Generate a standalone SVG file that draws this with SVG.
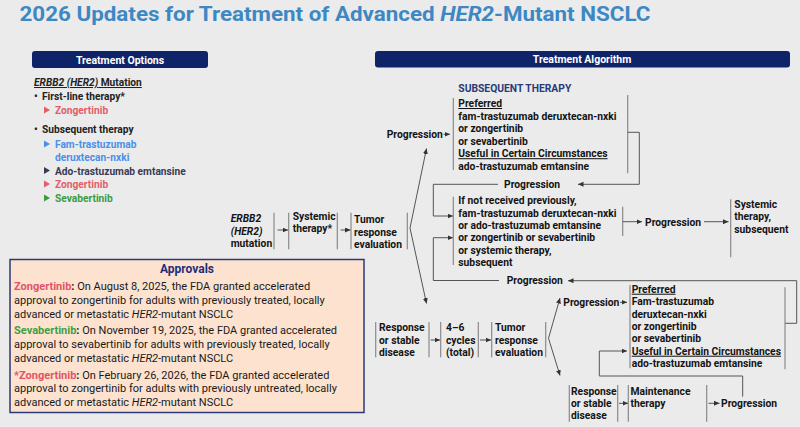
<svg xmlns="http://www.w3.org/2000/svg" width="800" height="427" viewBox="0 0 800 427">
<defs>
<style>
text{font-family:Roboto,"Liberation Sans",sans-serif}
.t{font-size:10.3px;font-weight:700;fill:#141414}
.l{font-size:10.2px;font-weight:700}
.p{font-size:11px;fill:#1a1a1a}
.hd{font-size:10.5px;font-weight:700;fill:#fff}
.br{stroke:#8a8a8a;stroke-width:1.2;fill:none}
.ln{stroke:#555;stroke-width:1;fill:none}
.u{text-decoration:underline}
</style>
<marker id="ah" markerUnits="userSpaceOnUse" markerWidth="6" markerHeight="6" refX="5.5" refY="2.5" orient="auto">
<path d="M0,0 L5.5,2.5 L0,5 z" fill="#333"/>
</marker>
</defs>
<rect width="800" height="427" fill="#ebebeb"/>
<text x="19.5" y="21" font-size="21" font-weight="700" fill="#3d88c3" textLength="631" lengthAdjust="spacingAndGlyphs">2026 Updates for Treatment of Advanced <tspan font-style="italic">HER2</tspan>-Mutant NSCLC</text>

<g id="options-header">
<rect x="32" y="51" width="176" height="17" rx="3" fill="#0f2468"/>
<text class="hd" x="120" y="63.5" text-anchor="middle">Treatment Options</text>
</g>

<g id="options-list">
<text class="l" x="34" y="86" fill="#222"><tspan class="u" font-style="italic">ERBB2 (HER2)</tspan><tspan class="u"> Mutation</tspan></text>
<text class="l" x="34" y="100" fill="#222">•</text>
<text class="l" x="42" y="100" fill="#222">First-line therapy*</text>
<polygon points="44,106.5 50,110 44,113.5" fill="#e35d6a"/>
<text class="l" x="55" y="114" fill="#e35d6a">Zongertinib</text>
<text class="l" x="34" y="133" fill="#222">•</text>
<text class="l" x="42" y="133" fill="#222">Subsequent therapy</text>
<polygon points="44,140.5 50,144 44,147.5" fill="#4b8fe8"/>
<text class="l" x="55" y="148" fill="#4b8fe8">Fam-trastuzumab</text>
<text class="l" x="55" y="160.5" fill="#4b8fe8">deruxtecan-nxki</text>
<polygon points="44,167 50,170.5 44,174" fill="#3a3a55"/>
<text class="l" x="55" y="174.5" fill="#3a3a55">Ado-trastuzumab emtansine</text>
<polygon points="44,180.5 50,184 44,187.5" fill="#e35d6a"/>
<text class="l" x="55" y="188" fill="#e35d6a">Zongertinib</text>
<polygon points="44,194.5 50,198 44,201.5" fill="#3d9b3f"/>
<text class="l" x="55" y="202" fill="#3d9b3f">Sevabertinib</text>
</g>

<g id="approvals">
<rect x="10" y="259.5" width="354" height="153" fill="#fce2cf" stroke="#2a3a78" stroke-width="1.5"/>
<text x="187" y="272.5" text-anchor="middle" font-size="12" font-weight="700" fill="#1f2f7a">Approvals</text>
<text class="p" x="14" y="290"><tspan fill="#e05565" font-weight="700">Zongertinib</tspan><tspan font-weight="700">:</tspan> On August 8, 2025, the FDA granted accelerated</text>
<text class="p" x="14" y="303.8">approval to zongertinib for adults with previously treated, locally</text>
<text class="p" x="14" y="317.6">advanced or metastatic <tspan font-style="italic">HER2</tspan>-mutant NSCLC</text>
<text class="p" x="14" y="334"><tspan fill="#3f9f45" font-weight="700">Sevabertinib</tspan><tspan font-weight="700">:</tspan> On November 19, 2025, the FDA granted accelerated</text>
<text class="p" x="14" y="348">approval to sevabertinib for adults with previously treated, locally</text>
<text class="p" x="14" y="362">advanced or metastatic <tspan font-style="italic">HER2</tspan>-mutant NSCLC</text>
<text class="p" x="14" y="378.5"><tspan fill="#e05565" font-weight="700">*Zongertinib</tspan><tspan font-weight="700">:</tspan> On February 26, 2026, the FDA granted accelerated</text>
<text class="p" x="14" y="392.3">approval to zongertinib for adults with previously untreated, locally</text>
<text class="p" x="14" y="406">advanced or metastatic <tspan font-style="italic">HER2</tspan>-mutant NSCLC</text>
</g>

<g id="algorithm-header">
<rect x="375" y="51" width="415" height="16.5" rx="3" fill="#0f2468"/>
<text class="hd" x="582" y="63" text-anchor="middle">Treatment Algorithm</text>
</g>

<g id="connectors">
<line class="br" x1="274" y1="212.7" x2="274" y2="249.3"/>
<line class="br" x1="288.7" y1="212.7" x2="288.7" y2="249.3"/>
<line class="br" x1="337.3" y1="212.7" x2="337.3" y2="249.3"/>
<line class="br" x1="351" y1="212.7" x2="351" y2="249.3"/>
<line class="br" x1="407.3" y1="212.7" x2="407.3" y2="249.3"/>
<line class="ln" x1="277.5" y1="230" x2="288" y2="230" marker-end="url(#ah)"/>
<line class="ln" x1="340.5" y1="230" x2="350.5" y2="230" marker-end="url(#ah)"/>
<line class="ln" x1="410" y1="228" x2="426.5" y2="148.5" marker-end="url(#ah)"/>
<line class="ln" x1="410" y1="228" x2="426.5" y2="303.5" marker-end="url(#ah)"/>
<line class="ln" x1="443.5" y1="134.3" x2="450" y2="134.3" marker-end="url(#ah)"/>
<line class="br" x1="453.3" y1="98" x2="453.3" y2="170"/>
<line class="br" x1="627.7" y1="95" x2="627.7" y2="173.3"/>
<polyline class="ln" points="627.7,132.3 639.3,132.3 639.3,184.3 578,184.3" marker-end="url(#ah)"/>
<polyline class="ln" points="498,184.3 433.3,184.3 433.3,216 453,216" marker-end="url(#ah)"/>
<polyline class="ln" points="499,280.5 433.3,280.5 433.3,237.7 453,237.7" marker-end="url(#ah)"/>
<line class="br" x1="453.3" y1="196.7" x2="453.3" y2="265"/>
<line class="br" x1="622.7" y1="206.7" x2="622.7" y2="236"/>
<line class="ln" x1="622.7" y1="221.7" x2="642" y2="221.7" marker-end="url(#ah)"/>
<line class="ln" x1="704" y1="221.7" x2="728.5" y2="221.7" marker-end="url(#ah)"/>
<line class="br" x1="730.7" y1="199.3" x2="730.7" y2="257.3"/>
<polyline class="ln" points="785,323.3 796.7,323.3 796.7,280.7 568,280.7" marker-end="url(#ah)"/>
<line class="br" x1="375.7" y1="322" x2="375.7" y2="357.3"/>
<line class="br" x1="429" y1="322" x2="429" y2="357.3"/>
<line class="br" x1="440.7" y1="322" x2="440.7" y2="357.3"/>
<line class="br" x1="478.3" y1="322" x2="478.3" y2="357.3"/>
<line class="br" x1="491.7" y1="322" x2="491.7" y2="357.3"/>
<line class="br" x1="545.7" y1="322" x2="545.7" y2="357.3"/>
<line class="ln" x1="430.5" y1="340" x2="440" y2="340" marker-end="url(#ah)"/>
<line class="ln" x1="480" y1="340" x2="491" y2="340" marker-end="url(#ah)"/>
<line class="ln" x1="548.5" y1="338.3" x2="560" y2="298" marker-end="url(#ah)"/>
<line class="ln" x1="548.5" y1="338.3" x2="560" y2="375.5" marker-end="url(#ah)"/>
<line class="ln" x1="620" y1="302.3" x2="627" y2="302.3" marker-end="url(#ah)"/>
<line class="br" x1="630" y1="285" x2="630" y2="368.3"/>
<line class="br" x1="785" y1="287.3" x2="785" y2="369.3"/>
<polyline class="ln" points="742.7,396.7 742.7,376 599.3,376 599.3,351 627,351" marker-end="url(#ah)"/>
<line class="br" x1="569.3" y1="385" x2="569.3" y2="421.7"/>
<line class="br" x1="617.7" y1="385" x2="617.7" y2="421.7"/>
<line class="br" x1="628.3" y1="385" x2="628.3" y2="421.7"/>
<line class="br" x1="706.7" y1="385" x2="706.7" y2="421.7"/>
<line class="ln" x1="619" y1="403.3" x2="628" y2="403.3" marker-end="url(#ah)"/>
<line class="ln" x1="708.5" y1="403.3" x2="719.5" y2="403.3" marker-end="url(#ah)"/>
</g>

<g id="node-erbb2">
<text class="t" x="230.7" y="222" font-style="italic">ERBB2</text>
<text class="t" x="230.7" y="234.6" font-style="italic">(HER2)</text>
<text class="t" x="230.7" y="247">mutation</text>
</g>
<g id="node-systemic">
<text class="t" x="292.7" y="219.7">Systemic</text>
<text class="t" x="292.7" y="232">therapy*</text>
</g>
<g id="node-tumor-1">
<text class="t" x="354" y="223">Tumor</text>
<text class="t" x="354" y="235.5">response</text>
<text class="t" x="354" y="247.5">evaluation</text>
</g>
<g id="node-progression-1">
<text class="t" x="386.7" y="138">Progression</text>
</g>
<g id="node-subsequent">
<text x="458.3" y="91.5" font-size="10.3" font-weight="700" fill="#2a3a78">SUBSEQUENT THERAPY</text>
<text class="t u" x="458.3" y="107">Preferred</text>
<text class="t" x="458.3" y="119.6">fam-trastuzumab deruxtecan-nxki</text>
<text class="t" x="458.3" y="132.1">or zongertinib</text>
<text class="t" x="458.3" y="144.6">or sevabertinib</text>
<text class="t u" x="458.3" y="157.2">Useful in Certain Circumstances</text>
<text class="t" x="458.3" y="169.7">ado-trastuzumab emtansine</text>
</g>
<g id="node-progression-2">
<text class="t" x="504" y="188">Progression</text>
</g>
<g id="node-if-not">
<text class="t" x="458.3" y="204.4">If not received previously,</text>
<text class="t" x="458.3" y="216.7">fam-trastuzumab deruxtecan-nxki</text>
<text class="t" x="458.3" y="229">or ado-trastuzumab emtansine</text>
<text class="t" x="458.3" y="241.3">or zongertinib or sevabertinib</text>
<text class="t" x="458.3" y="253.6">or systemic therapy,</text>
<text class="t" x="458.3" y="265.9">subsequent</text>
</g>
<g id="node-progression-3">
<text class="t" x="645" y="225.8">Progression</text>
</g>
<g id="node-systemic-subsequent">
<text class="t" x="734.3" y="208">Systemic</text>
<text class="t" x="734.3" y="220.4">therapy,</text>
<text class="t" x="734.3" y="232.7">subsequent</text>
</g>
<g id="node-progression-4">
<text class="t" x="506.7" y="284.3">Progression</text>
</g>
<g id="node-response-1">
<text class="t" x="379" y="331">Response</text>
<text class="t" x="379" y="343.6">or stable</text>
<text class="t" x="379" y="355.5">disease</text>
</g>
<g id="node-cycles">
<text class="t" x="446" y="331">4–6</text>
<text class="t" x="446" y="343.6">cycles</text>
<text class="t" x="446" y="355.5">(total)</text>
</g>
<g id="node-tumor-2">
<text class="t" x="495" y="330.5">Tumor</text>
<text class="t" x="495" y="343.6">response</text>
<text class="t" x="495" y="355.5">evaluation</text>
</g>
<g id="node-progression-5">
<text class="t" x="563.3" y="306">Progression</text>
</g>
<g id="node-preferred-2">
<text class="t u" x="631.7" y="292.7">Preferred</text>
<text class="t" x="631.7" y="305.1">Fam-trastuzumab</text>
<text class="t" x="631.7" y="317.5">deruxtecan-nxki</text>
<text class="t" x="631.7" y="329.9">or zongertinib</text>
<text class="t" x="631.7" y="342.3">or sevabertinib</text>
<text class="t u" x="631.7" y="354.7">Useful in Certain Circumstances</text>
<text class="t" x="631.7" y="367.1">ado-trastuzumab emtansine</text>
</g>
<g id="node-response-2">
<text class="t" x="571" y="394.5">Response</text>
<text class="t" x="571" y="407">or stable</text>
<text class="t" x="571" y="419.4">disease</text>
</g>
<g id="node-maintenance">
<text class="t" x="630.5" y="394.7">Maintenance</text>
<text class="t" x="630.5" y="407">therapy</text>
</g>
<g id="node-progression-6">
<text class="t" x="721" y="407">Progression</text>
</g>
</svg>
